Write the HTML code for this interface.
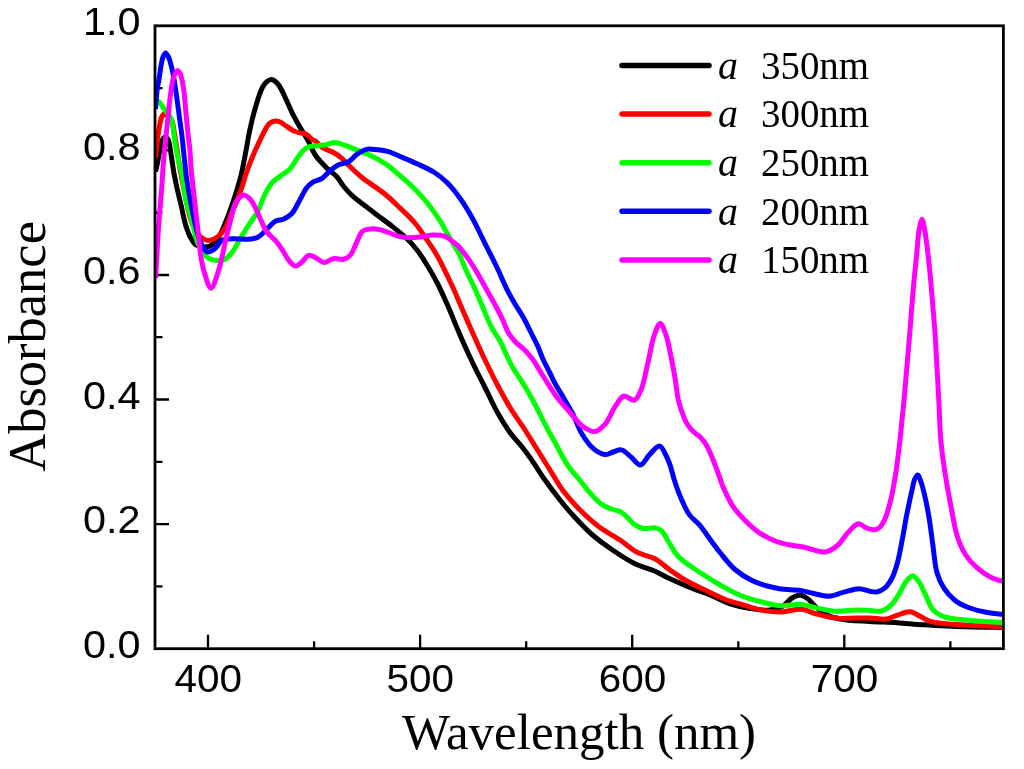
<!DOCTYPE html><html><head><meta charset="utf-8"><style>html,body{margin:0;padding:0;background:#fff;width:1024px;height:769px;overflow:hidden}svg{display:block;will-change:transform}.tk{font-family:"Liberation Sans",sans-serif;font-size:38px;fill:#000}.sf{font-family:"Liberation Serif",serif;fill:#000}</style></head><body><svg width="1024" height="769" viewBox="0 0 1024 769"><rect width="1024" height="769" fill="#fff"/><defs><clipPath id="c"><rect x="155.0" y="25.8" width="848.4" height="622.9"/></clipPath></defs><path d="M208.0 648.7V634.7 M420.1 648.7V634.7 M632.2 648.7V634.7 M844.3 648.7V634.7 M314.1 648.7V641.2 M526.2 648.7V641.2 M738.3 648.7V641.2 M950.4 648.7V641.2 M155.0 586.4H162.5 M155.0 524.1H169.0 M155.0 461.8H162.5 M155.0 399.5H169.0 M155.0 337.2H162.5 M155.0 275.0H169.0 M155.0 212.7H162.5 M155.0 150.4H169.0 M155.0 88.1H162.5" stroke="#000" stroke-width="2.3" fill="none"/><g clip-path="url(#c)" fill="none" stroke-width="5.0" stroke-linejoin="round" stroke-linecap="butt"><path stroke="#000000" d="M155.5 171.5 C156.1 169.0 156.7 166.9 157.3 164.0 C158.2 159.9 159.1 153.4 160.1 149.0 C160.9 145.5 161.5 141.6 162.7 139.5 C163.5 138.2 164.6 136.8 165.5 136.8 C166.4 136.8 167.5 138.5 168.2 139.8 C169.0 141.3 169.2 143.3 169.7 145.5 C170.3 148.5 170.7 152.2 171.3 156.0 C172.0 160.6 172.8 166.1 173.6 171.0 C174.4 175.8 175.4 180.6 176.3 185.0 C177.2 189.0 178.1 192.8 179.0 196.5 C179.8 200.1 180.7 203.5 181.5 207.0 C182.3 210.5 182.9 214.1 183.7 217.5 C184.5 220.7 185.2 223.7 186.2 226.9 C187.4 230.3 188.7 234.2 190.4 237.3 C191.9 240.0 193.3 243.0 195.6 244.6 C197.9 246.2 201.4 246.9 204.0 247.0 C206.2 247.1 208.0 246.9 210.0 246.0 C212.5 244.8 215.2 242.4 217.5 239.3 C220.8 234.8 223.7 226.8 226.3 220.5 C228.9 214.2 230.9 208.4 233.2 201.5 C235.8 193.5 238.8 184.2 241.0 175.5 C243.1 166.9 244.7 157.4 246.2 149.5 C247.5 143.0 248.1 138.0 249.5 131.5 C251.2 123.6 253.6 113.3 256.0 105.5 C258.0 98.8 260.2 91.6 262.5 87.3 C263.9 84.7 265.3 82.8 267.0 81.5 C268.4 80.4 270.1 79.4 271.6 79.5 C273.1 79.6 274.7 80.9 276.0 82.0 C277.3 83.1 278.2 84.2 279.4 86.0 C281.4 89.0 283.8 94.5 285.9 99.0 C288.1 103.6 290.0 108.6 292.4 113.3 C294.8 118.1 297.6 123.0 300.2 127.6 C302.8 132.1 305.5 136.1 308.0 140.6 C310.6 145.4 312.5 151.0 315.6 155.5 C318.6 159.8 322.4 163.6 326.0 167.2 C329.4 170.5 333.3 173.0 336.4 176.3 C339.4 179.6 341.5 183.7 344.2 187.0 C346.7 190.1 349.3 192.9 352.0 195.5 C354.6 197.9 357.2 199.8 360.0 202.0 C362.9 204.3 366.0 206.6 368.9 208.8 C371.7 210.9 373.9 212.6 377.0 215.0 C381.2 218.2 387.0 222.3 392.0 226.2 C397.1 230.2 402.6 234.5 407.0 238.8 C410.8 242.5 413.8 245.9 417.0 250.0 C420.5 254.5 423.8 259.7 427.0 265.0 C430.4 270.6 433.8 276.2 437.0 282.5 C440.6 289.5 443.9 296.9 447.5 305.0 C451.6 314.2 455.8 325.3 460.0 335.0 C464.1 344.4 468.2 353.6 472.5 362.5 C476.6 371.1 480.8 379.2 485.0 387.5 C489.2 395.8 493.1 404.7 497.5 412.5 C501.5 419.6 505.6 426.4 510.0 432.5 C514.0 438.0 518.9 443.0 522.5 447.5 C525.4 451.1 527.1 453.5 530.0 457.5 C534.2 463.5 539.9 472.8 545.0 480.0 C549.9 486.9 554.9 493.6 560.0 500.0 C564.9 506.1 569.7 511.8 575.0 517.5 C580.5 523.4 586.3 529.6 592.5 535.0 C598.8 540.4 605.5 545.3 612.5 550.0 C619.7 554.9 627.5 560.1 635.0 563.8 C641.7 567.0 648.9 568.6 655.0 571.2 C660.4 573.6 664.6 576.2 670.0 578.8 C676.2 581.6 683.3 584.8 690.0 587.5 C696.6 590.2 703.4 592.3 710.0 595.0 C716.7 597.7 723.2 601.5 730.0 603.8 C736.6 605.9 743.3 607.5 750.0 608.5 C756.6 609.5 764.1 610.7 770.0 610.0 C774.9 609.5 779.3 608.1 783.0 606.0 C786.5 604.0 788.9 599.8 792.0 598.0 C794.6 596.5 797.4 595.2 800.0 595.3 C802.7 595.4 805.6 597.3 808.0 599.0 C810.6 600.8 812.4 603.7 815.0 606.0 C818.0 608.7 821.1 611.9 825.0 614.0 C829.3 616.3 834.1 617.8 840.0 619.0 C848.2 620.7 860.2 620.8 870.0 621.4 C879.3 622.0 888.2 622.1 897.3 622.7 C906.4 623.3 914.6 624.2 924.7 624.8 C937.0 625.6 951.9 626.4 965.7 626.8 C979.7 627.3 993.9 627.3 1008.0 627.5"/><path stroke="#ff0000" d="M155.5 158.0 C156.2 151.7 156.8 144.7 157.5 139.0 C158.1 134.2 158.8 129.8 159.5 126.0 C160.1 123.0 160.5 120.1 161.3 118.0 C161.9 116.5 162.4 115.0 163.3 114.5 C164.0 114.1 165.1 114.5 166.0 114.8 C167.0 115.1 168.1 115.7 169.0 116.5 C170.1 117.6 171.2 119.0 172.0 121.0 C173.3 124.1 173.7 129.5 174.5 134.0 C175.4 138.8 176.2 143.8 177.0 149.0 C177.9 154.5 178.6 160.5 179.5 166.0 C180.4 171.2 181.3 175.7 182.3 181.0 C183.5 187.1 184.7 194.1 186.2 200.8 C187.8 207.7 189.4 216.0 191.5 221.7 C193.0 225.8 194.8 229.1 196.7 232.0 C198.3 234.4 200.0 236.6 202.0 238.0 C203.8 239.3 205.8 240.4 208.1 240.4 C211.1 240.4 215.6 238.3 218.6 236.0 C221.7 233.6 224.3 229.6 226.3 226.1 C228.3 222.6 229.2 218.8 230.8 215.0 C232.4 211.1 234.3 207.1 236.0 203.0 C237.7 198.8 239.4 194.6 241.0 190.0 C242.8 185.0 244.2 179.3 246.0 174.0 C247.8 168.6 249.9 163.2 252.0 158.0 C254.1 152.9 256.2 148.2 258.6 143.2 C261.0 138.0 264.1 131.2 266.4 127.6 C267.7 125.5 268.5 124.1 270.0 123.0 C271.5 121.9 273.7 121.2 275.5 121.1 C277.1 121.0 278.5 121.4 280.0 122.0 C281.6 122.6 282.8 123.8 284.6 125.0 C287.1 126.6 290.9 129.6 293.7 130.9 C295.9 131.9 298.1 132.4 300.0 132.8 C301.5 133.2 302.8 133.1 304.1 133.5 C305.4 133.9 306.6 134.5 307.8 135.4 C309.2 136.4 310.5 138.3 311.9 139.3 C313.1 140.2 314.3 140.3 315.6 141.2 C317.5 142.6 319.4 145.5 322.0 147.3 C325.0 149.3 329.6 150.4 333.0 152.3 C336.1 154.0 338.8 155.8 341.6 158.1 C344.7 160.7 347.5 164.1 350.7 167.2 C354.2 170.6 357.5 173.8 362.0 177.5 C368.1 182.5 377.9 188.4 384.5 193.8 C390.2 198.4 394.6 202.8 399.5 207.5 C404.6 212.3 409.9 217.1 414.5 222.5 C419.1 227.9 423.1 234.3 427.0 240.0 C430.6 245.3 433.8 250.0 437.0 255.5 C440.5 261.5 444.0 268.8 447.0 275.0 C449.7 280.6 452.2 285.9 454.5 291.0 C456.5 295.5 457.8 298.8 460.0 304.0 C463.3 311.7 468.3 323.1 472.5 332.5 C476.6 341.8 480.7 351.1 485.0 360.0 C489.1 368.6 493.2 376.9 497.5 385.0 C501.6 392.7 505.5 400.1 510.0 407.5 C514.6 415.1 520.3 422.7 525.0 430.0 C529.4 436.8 533.3 443.3 537.5 450.0 C541.7 456.7 545.8 463.3 550.0 470.0 C554.2 476.7 557.7 483.5 562.5 490.0 C567.6 496.9 573.7 503.7 580.0 510.0 C586.2 516.2 593.1 522.4 600.0 527.5 C606.5 532.3 613.6 535.7 620.0 540.0 C626.1 544.1 631.4 549.3 637.5 552.5 C643.1 555.4 649.6 555.8 655.0 558.8 C660.4 561.7 664.9 566.4 670.0 570.0 C675.0 573.5 679.5 576.8 685.0 580.0 C691.1 583.5 697.9 586.6 705.0 590.0 C712.8 593.7 723.5 599.0 730.0 601.2 C734.0 602.7 736.1 602.7 740.0 603.8 C745.6 605.4 753.6 608.5 760.5 609.9 C767.3 611.2 774.2 612.1 781.0 612.0 C787.8 611.9 795.2 608.7 801.5 609.2 C807.0 609.7 811.2 612.6 816.6 614.0 C822.6 615.6 829.2 617.4 835.7 618.1 C842.4 618.8 850.0 618.1 856.2 618.1 C861.3 618.1 865.2 617.8 870.0 617.9 C875.2 618.0 881.5 619.7 886.4 619.0 C890.5 618.5 893.5 616.4 897.3 615.2 C901.4 613.9 906.3 611.4 910.3 611.8 C914.0 612.1 917.2 615.0 920.6 616.6 C923.9 618.2 926.5 620.2 930.2 621.4 C934.8 622.8 940.5 623.1 946.6 623.7 C954.2 624.5 963.2 625.0 972.5 625.5 C983.4 626.1 996.2 626.6 1008.0 627.2"/><path stroke="#00ff00" d="M155.5 103.0 C156.5 102.5 157.6 101.3 158.5 101.5 C159.6 101.7 160.5 103.7 161.5 105.0 C162.6 106.5 163.7 108.5 164.9 110.0 C166.0 111.4 167.4 112.4 168.5 114.0 C169.7 115.9 170.8 117.9 171.7 120.6 C173.0 124.6 173.3 131.0 174.1 136.2 C175.0 141.5 175.9 147.0 176.8 152.0 C177.7 156.5 178.6 161.3 179.5 165.0 C180.1 167.7 180.8 169.2 181.4 172.0 C182.3 176.2 183.2 183.1 184.0 188.0 C184.7 192.3 185.1 196.1 186.0 200.0 C186.8 203.7 187.9 206.8 189.0 210.6 C190.2 215.0 191.8 220.3 193.0 225.0 C194.1 229.4 194.6 233.7 196.0 238.0 C197.5 242.5 199.7 248.0 202.0 251.5 C203.8 254.2 205.7 256.5 208.0 258.0 C210.2 259.4 213.1 259.9 215.3 260.3 C217.0 260.6 218.5 260.6 220.0 260.5 C221.4 260.4 222.6 260.5 224.1 259.8 C226.4 258.6 229.5 255.6 231.9 252.6 C234.9 248.9 237.3 243.5 240.0 239.0 C242.7 234.6 245.2 230.4 248.0 226.0 C251.1 221.2 254.9 216.5 257.8 211.2 C260.8 205.6 262.7 198.3 265.6 193.0 C268.0 188.5 270.4 184.4 273.4 181.3 C276.0 178.6 279.2 177.1 282.0 175.0 C284.7 173.0 287.7 171.4 290.0 169.0 C292.4 166.5 293.9 163.0 296.0 160.0 C298.2 157.0 300.5 153.3 302.8 151.0 C304.5 149.3 306.0 147.9 308.0 147.0 C310.2 146.1 312.9 146.1 315.6 145.8 C318.5 145.4 321.6 145.5 324.7 145.0 C328.1 144.4 331.8 142.4 335.1 142.5 C338.2 142.6 341.0 144.0 344.2 145.1 C347.9 146.3 352.0 148.2 355.9 149.7 C359.8 151.2 363.9 152.5 367.6 154.2 C371.2 155.8 374.6 157.5 378.0 159.4 C381.5 161.4 384.9 163.4 388.4 165.9 C392.3 168.7 396.1 172.4 400.0 175.7 C404.0 179.1 407.9 182.2 412.0 186.2 C416.8 191.0 422.4 196.8 427.0 202.5 C431.5 208.1 435.7 214.1 439.5 220.0 C443.2 225.7 446.2 231.7 449.5 237.5 C452.8 243.3 456.6 249.1 459.5 255.0 C462.4 260.8 464.4 266.8 467.0 272.5 C469.5 278.0 472.2 283.0 474.7 288.5 C477.4 294.3 479.8 300.4 482.5 306.7 C485.4 313.4 488.4 321.4 491.6 327.5 C494.3 332.6 497.5 336.4 500.0 341.0 C502.5 345.6 504.3 350.4 506.5 355.0 C508.6 359.4 510.6 363.8 513.0 368.0 C515.4 372.1 518.2 375.7 520.8 379.8 C523.4 384.0 526.2 388.6 528.6 392.8 C530.9 396.8 533.0 400.5 535.1 404.5 C537.3 408.7 539.4 413.2 541.6 417.5 C543.7 421.7 545.8 425.9 548.0 430.0 C550.2 434.2 552.3 437.7 555.0 442.5 C558.6 448.9 563.0 458.4 567.5 465.0 C571.4 470.8 576.0 475.5 580.0 480.4 C583.6 484.9 586.8 489.4 590.4 493.4 C593.8 497.2 597.1 501.1 600.8 503.8 C604.1 506.2 607.8 507.7 611.2 509.0 C614.3 510.2 617.6 510.2 620.3 511.6 C622.8 512.9 624.6 514.8 626.8 516.8 C629.3 519.1 631.7 522.6 634.6 524.6 C637.4 526.5 640.4 527.9 643.7 528.5 C647.3 529.1 652.1 527.2 655.4 527.9 C658.0 528.4 660.0 529.3 661.9 531.1 C664.4 533.4 665.9 537.7 668.4 541.5 C671.4 546.2 674.2 552.3 678.8 557.1 C684.3 562.8 693.0 567.7 700.0 572.5 C706.7 577.0 713.3 581.2 720.0 585.0 C726.6 588.7 733.2 592.5 740.0 595.3 C746.7 598.0 753.6 599.9 760.5 601.7 C767.3 603.4 774.1 605.4 781.0 605.8 C787.8 606.2 795.2 603.9 801.5 604.4 C807.0 604.8 811.3 606.8 816.6 607.9 C822.6 609.1 829.2 610.9 835.7 611.3 C842.4 611.7 850.0 610.0 856.2 609.9 C861.3 609.8 865.7 610.2 870.0 610.4 C873.8 610.6 877.5 611.9 880.9 611.1 C884.3 610.3 887.6 608.1 890.5 605.6 C893.7 602.8 896.2 598.5 898.7 594.7 C901.2 590.8 902.9 585.7 905.5 582.4 C907.7 579.6 910.4 575.7 912.7 575.8 C915.0 575.9 917.2 579.6 919.2 582.4 C921.8 586.0 923.8 591.5 926.1 596.1 C928.4 600.6 929.8 606.2 932.9 609.7 C935.8 612.9 939.3 614.9 943.8 616.6 C949.7 618.8 957.2 619.1 965.7 620.0 C977.5 621.3 993.9 621.8 1008.0 622.7"/><path stroke="#0000ff" d="M155.5 109.0 C156.0 102.7 156.4 95.5 157.1 90.0 C157.7 85.8 158.5 82.8 159.1 79.0 C159.8 74.9 160.3 69.9 161.0 66.0 C161.6 62.7 162.0 59.3 163.0 57.0 C163.7 55.3 164.7 53.0 165.6 53.0 C166.5 53.0 167.7 55.5 168.5 57.0 C169.4 58.7 169.9 60.8 170.5 63.0 C171.3 65.8 172.0 68.8 172.8 72.5 C173.8 77.8 175.0 85.2 176.0 92.0 C177.1 99.3 178.1 107.4 179.1 115.0 C180.1 122.4 181.2 129.6 182.1 137.0 C183.0 144.6 183.7 152.6 184.5 160.0 C185.3 166.9 185.8 173.3 186.8 180.0 C187.8 186.9 189.1 193.9 190.4 200.8 C191.7 207.8 193.1 215.2 194.6 221.7 C196.0 227.5 197.4 233.4 199.0 238.0 C200.2 241.5 201.4 244.5 203.0 247.0 C204.3 249.0 205.7 251.6 207.6 252.0 C209.7 252.4 213.0 250.0 215.3 248.2 C217.8 246.2 219.1 242.0 221.9 240.4 C224.7 238.8 228.0 239.1 231.9 238.8 C237.2 238.4 246.3 239.6 251.0 239.0 C253.9 238.6 255.6 238.3 257.8 237.2 C260.5 235.8 263.0 233.1 265.6 230.7 C268.6 228.0 271.4 223.5 274.7 221.6 C277.5 219.9 281.0 220.3 283.8 219.0 C286.6 217.7 289.2 216.3 291.6 213.8 C294.6 210.7 296.9 205.1 299.4 200.8 C301.9 196.5 303.9 191.3 306.5 188.0 C308.5 185.5 310.5 183.8 313.0 182.2 C315.7 180.5 319.2 180.2 322.1 178.3 C325.3 176.2 328.2 172.2 331.2 169.8 C333.8 167.7 336.2 165.9 339.0 164.6 C341.8 163.3 345.2 163.5 348.1 162.0 C351.3 160.3 354.0 156.3 357.2 154.2 C360.1 152.2 363.3 150.1 366.3 149.4 C369.0 148.7 371.5 149.3 374.5 149.5 C378.2 149.8 382.9 150.2 387.0 151.2 C391.2 152.4 395.0 154.4 399.5 156.2 C404.9 158.5 411.2 161.1 417.0 163.8 C422.9 166.5 429.3 169.2 434.5 172.5 C439.2 175.5 443.0 178.6 447.0 182.5 C451.4 186.8 455.5 192.0 459.5 197.5 C463.9 203.6 468.0 210.4 472.0 217.5 C476.4 225.3 480.3 234.2 484.5 242.5 C488.7 250.8 493.1 259.4 497.0 267.5 C500.6 275.1 503.9 283.2 507.2 289.8 C509.9 295.1 512.3 299.5 515.0 304.1 C517.5 308.4 520.3 312.0 522.8 316.5 C525.7 321.5 528.6 327.8 531.2 333.0 C533.5 337.6 535.7 341.6 537.7 346.0 C539.6 350.3 541.0 354.7 542.9 359.0 C544.9 363.4 547.2 367.7 549.4 372.0 C551.6 376.3 553.5 380.7 555.9 385.0 C558.3 389.4 561.0 393.4 563.7 398.0 C566.6 403.0 569.9 408.3 572.8 414.0 C575.9 420.1 578.1 427.6 581.7 433.5 C585.1 439.1 589.1 445.1 593.4 448.7 C597.0 451.7 601.5 454.3 605.1 454.6 C607.9 454.8 610.3 452.8 613.0 452.0 C615.8 451.2 618.7 449.3 621.5 449.9 C624.7 450.5 627.8 454.4 630.9 456.9 C634.1 459.5 637.3 465.3 640.3 465.1 C643.5 464.9 646.3 457.8 649.6 454.6 C652.8 451.5 656.7 445.6 659.5 446.0 C662.2 446.4 664.5 452.6 666.3 456.0 C668.0 459.2 669.1 462.3 670.4 466.0 C671.9 470.2 672.7 475.1 674.3 480.0 C676.1 485.6 678.3 492.0 680.8 497.8 C683.3 503.5 685.7 509.7 689.1 514.4 C692.1 518.6 696.4 521.2 699.5 524.8 C702.3 528.1 704.2 531.1 707.0 535.0 C710.7 540.1 715.4 546.8 720.0 552.5 C724.7 558.3 729.5 564.8 735.0 569.5 C740.2 574.0 746.3 577.7 752.0 580.5 C757.1 583.0 762.3 584.6 767.3 586.0 C771.9 587.3 776.0 588.3 781.0 589.0 C786.8 589.8 794.4 589.5 800.2 590.4 C805.2 591.1 809.1 592.6 813.8 593.5 C818.7 594.5 823.9 596.4 828.9 596.2 C833.9 596.0 838.9 593.4 843.9 592.1 C848.9 590.9 854.4 588.7 859.0 588.7 C863.0 588.7 866.8 590.8 870.0 591.3 C872.5 591.7 874.5 592.4 876.8 592.0 C879.5 591.5 882.6 589.9 885.0 587.9 C887.7 585.6 889.9 582.0 891.9 578.3 C894.2 574.0 895.7 568.8 897.3 563.2 C899.2 556.4 900.6 548.0 902.2 540.0 C903.8 531.6 905.2 522.4 906.9 514.0 C908.5 506.1 910.3 497.4 911.8 491.0 C912.9 486.3 913.4 481.8 914.8 479.0 C915.7 477.2 917.0 475.0 917.9 475.1 C919.1 475.2 920.0 479.3 921.0 482.0 C922.3 485.5 923.3 489.7 924.5 494.6 C926.1 501.2 927.7 509.8 929.1 518.0 C930.6 526.9 931.7 536.9 933.0 546.1 C934.3 555.1 934.8 565.3 937.0 572.8 C938.7 578.7 940.8 583.3 943.8 587.9 C946.8 592.5 950.6 596.9 954.8 600.2 C958.8 603.4 963.4 605.5 968.4 607.5 C973.8 609.6 979.9 611.0 986.2 612.2 C993.1 613.5 1000.7 614.1 1008.0 615.0"/><path stroke="#ff00ff" d="M155.6 278.0 C156.6 261.3 157.4 243.3 158.5 228.0 C159.4 215.0 160.5 203.5 161.4 192.0 C162.2 181.5 162.6 172.3 163.5 162.0 C164.4 151.0 165.7 139.3 166.9 128.0 C168.1 116.7 169.3 103.3 170.6 94.0 C171.5 87.5 172.1 81.7 173.6 77.5 C174.6 74.6 176.0 70.8 177.3 70.6 C178.2 70.4 179.3 71.9 180.0 73.0 C181.0 74.6 181.4 77.3 182.0 80.0 C182.8 83.4 183.4 87.4 184.0 92.0 C184.8 98.1 185.3 106.1 186.0 113.4 C186.7 121.0 187.6 130.1 188.3 136.8 C188.9 141.8 189.4 145.1 189.9 150.0 C190.5 156.0 190.7 164.5 191.2 170.0 C191.5 173.9 191.9 176.1 192.3 180.0 C192.9 185.7 193.8 193.9 194.6 200.8 C195.4 207.8 196.2 214.7 197.0 221.7 C197.8 228.6 198.5 235.9 199.3 242.5 C200.0 248.6 200.4 254.6 201.4 260.0 C202.2 264.7 203.0 268.6 204.5 273.0 C206.1 278.0 208.7 288.3 210.9 288.3 C213.3 288.3 216.4 277.1 218.6 270.3 C221.3 262.2 223.0 251.8 225.2 242.6 C227.4 233.4 229.8 222.3 231.9 215.0 C233.3 210.1 233.7 206.2 235.8 202.8 C237.7 199.6 241.0 195.3 243.6 195.0 C245.7 194.8 248.2 197.2 250.0 199.0 C252.1 201.1 253.6 204.2 255.2 207.3 C257.1 210.8 258.5 215.0 260.4 219.0 C262.4 223.2 264.2 228.2 266.9 232.0 C269.5 235.5 273.3 238.0 276.0 241.1 C278.5 244.0 280.4 247.0 282.5 250.2 C284.7 253.5 286.6 257.8 289.0 260.6 C291.0 262.9 293.3 266.0 295.5 266.1 C297.6 266.2 299.9 263.6 302.0 261.9 C304.3 260.1 306.0 256.0 308.5 255.4 C310.8 254.8 313.8 256.8 316.3 258.0 C319.0 259.2 321.4 262.4 324.1 262.6 C327.0 262.8 330.0 259.3 333.2 258.7 C336.5 258.1 340.6 260.0 343.6 259.3 C346.1 258.7 348.2 257.5 350.1 255.4 C352.8 252.5 354.6 246.5 356.6 242.4 C358.4 238.7 360.0 234.0 361.8 232.0 C362.8 230.9 363.7 230.5 365.0 230.0 C366.5 229.4 368.4 229.0 370.4 228.9 C373.0 228.7 376.5 229.0 379.5 229.6 C382.6 230.2 385.5 231.4 388.6 232.5 C392.0 233.7 395.5 235.5 399.0 236.4 C402.4 237.2 405.9 237.6 409.4 237.7 C412.9 237.8 416.1 237.5 419.8 237.1 C423.9 236.7 428.6 235.2 432.8 235.1 C436.8 235.0 441.4 235.2 444.5 236.2 C446.8 236.9 448.1 238.2 450.0 239.5 C452.4 241.2 455.4 243.3 457.8 245.6 C460.2 247.9 462.2 250.7 464.3 253.4 C466.5 256.3 468.7 259.3 470.8 262.5 C473.0 265.8 475.2 269.3 477.3 272.9 C479.5 276.7 481.6 280.7 483.8 284.6 C486.0 288.5 488.1 292.4 490.3 296.3 C492.5 300.2 494.7 304.1 496.8 308.0 C498.8 311.8 500.8 315.6 502.6 319.5 C504.4 323.5 505.9 328.3 507.8 331.7 C509.3 334.4 510.9 336.5 512.5 338.5 C513.9 340.3 515.2 341.7 516.9 343.4 C519.1 345.5 522.2 347.4 524.7 349.9 C527.4 352.6 530.1 355.8 532.5 359.0 C534.9 362.3 536.8 365.9 539.0 369.4 C541.2 372.9 543.3 376.3 545.5 379.8 C547.7 383.3 549.8 386.9 552.0 390.2 C554.1 393.4 556.1 396.2 558.5 399.3 C561.2 402.7 564.7 406.3 567.6 409.7 C570.3 412.8 572.9 416.0 575.4 418.8 C577.6 421.2 579.0 423.5 581.7 425.5 C585.1 427.9 590.6 432.0 594.6 431.6 C598.4 431.3 602.0 427.5 605.1 424.1 C608.8 420.0 611.2 412.6 614.5 407.7 C617.5 403.3 620.3 396.9 623.9 396.0 C627.0 395.2 631.5 401.1 634.4 400.2 C637.5 399.2 639.4 393.6 641.4 389.0 C644.0 382.8 645.3 373.9 647.3 365.6 C649.6 356.1 651.5 342.8 654.3 335.1 C656.1 330.1 658.2 323.4 660.2 323.4 C662.1 323.4 664.2 330.1 666.0 335.1 C668.8 343.0 671.3 358.5 673.0 367.0 C674.1 372.6 674.7 376.0 675.5 381.0 C676.4 386.7 677.0 393.9 678.2 399.5 C679.3 404.3 680.6 408.3 682.1 412.5 C683.6 416.6 685.2 420.8 687.3 424.2 C689.2 427.2 691.5 429.8 693.8 432.0 C695.9 434.0 698.3 435.2 700.3 437.2 C702.2 439.1 703.9 441.2 705.5 443.7 C707.4 446.7 709.0 450.4 710.7 454.1 C712.5 458.2 714.3 462.8 715.9 467.1 C717.5 471.4 719.2 476.3 720.5 479.9 C721.4 482.5 721.7 483.8 722.9 486.5 C725.0 491.3 728.9 500.3 732.8 506.1 C736.4 511.6 740.8 516.2 745.3 520.7 C749.8 525.2 754.7 529.6 759.9 533.1 C765.1 536.5 771.1 539.5 776.5 541.5 C781.1 543.3 785.5 544.1 790.0 545.0 C794.4 545.9 798.1 546.1 803.0 547.0 C809.5 548.2 819.2 552.9 825.5 552.0 C830.4 551.3 834.3 548.1 838.0 545.0 C841.9 541.7 844.4 536.1 848.0 532.5 C851.3 529.1 855.2 524.1 858.5 523.8 C861.2 523.5 863.5 526.8 866.2 527.8 C868.9 528.8 872.2 530.1 874.7 529.8 C876.8 529.5 878.7 528.3 880.4 526.7 C882.5 524.6 884.1 520.9 885.6 517.3 C887.5 512.8 888.9 507.3 890.3 501.7 C891.9 495.3 893.3 487.8 894.5 480.8 C895.7 473.9 896.7 466.7 897.6 460.0 C898.4 453.7 899.1 448.1 899.8 441.7 C900.6 434.8 901.3 427.0 902.0 420.0 C902.7 413.3 903.2 409.0 904.0 400.5 C905.5 384.3 908.6 346.8 910.0 330.0 C910.8 320.6 911.1 315.6 911.7 308.0 C912.4 299.7 913.1 290.7 913.9 282.0 C914.7 273.3 915.6 264.7 916.5 256.0 C917.4 247.3 917.9 236.7 919.1 230.0 C919.9 225.7 921.1 219.5 922.0 219.5 C922.9 219.5 923.9 225.7 924.7 230.0 C926.0 236.7 927.2 247.3 928.2 256.0 C929.2 264.7 930.0 273.3 930.8 282.0 C931.6 290.7 932.3 299.7 933.0 308.0 C933.6 315.7 934.1 320.9 934.8 330.4 C936.0 347.3 937.7 380.5 938.8 400.5 C939.6 415.5 939.7 427.6 940.8 440.0 C941.8 451.0 943.1 460.8 944.7 471.2 C946.3 481.6 948.1 491.7 950.2 502.4 C952.4 513.7 954.4 527.5 957.5 537.0 C959.8 544.1 962.3 549.8 965.7 555.0 C968.8 559.8 972.5 563.7 976.6 567.3 C980.7 571.0 985.2 574.3 990.3 576.9 C995.7 579.6 1002.1 581.0 1008.0 583.0"/></g><rect x="155.0" y="25.8" width="848.4" height="622.9" fill="none" stroke="#000" stroke-width="2.8"/><text class="tk" x="208.2" y="691.6" text-anchor="middle" textLength="67.5" lengthAdjust="spacingAndGlyphs">400</text><text class="tk" x="420.3" y="691.6" text-anchor="middle" textLength="67.5" lengthAdjust="spacingAndGlyphs">500</text><text class="tk" x="632.4" y="691.6" text-anchor="middle" textLength="67.5" lengthAdjust="spacingAndGlyphs">600</text><text class="tk" x="844.5" y="691.6" text-anchor="middle" textLength="67.5" lengthAdjust="spacingAndGlyphs">700</text><text class="tk" x="140.5" y="658.0" text-anchor="end" textLength="57.5" lengthAdjust="spacingAndGlyphs">0.0</text><text class="tk" x="140.5" y="533.4" text-anchor="end" textLength="57.5" lengthAdjust="spacingAndGlyphs">0.2</text><text class="tk" x="140.5" y="408.8" text-anchor="end" textLength="57.5" lengthAdjust="spacingAndGlyphs">0.4</text><text class="tk" x="140.5" y="284.3" text-anchor="end" textLength="57.5" lengthAdjust="spacingAndGlyphs">0.6</text><text class="tk" x="140.5" y="159.7" text-anchor="end" textLength="57.5" lengthAdjust="spacingAndGlyphs">0.8</text><text class="tk" x="140.5" y="35.1" text-anchor="end" textLength="57.5" lengthAdjust="spacingAndGlyphs">1.0</text><text class="sf" x="579" y="749.4" font-size="51" text-anchor="middle">Wavelength (nm)</text><text class="sf" font-size="52.5" text-anchor="middle" transform="translate(45.2 346.4) rotate(-90)">Absorbance</text><line x1="622" y1="65.5" x2="709" y2="65.5" stroke="#000000" stroke-width="5.5" stroke-linecap="round"/><text class="sf" x="718" y="78.7" font-size="40" font-style="italic">a</text><text class="sf" x="761" y="78.7" font-size="40" textLength="108" lengthAdjust="spacingAndGlyphs">350nm</text><line x1="622" y1="114.1" x2="709" y2="114.1" stroke="#ff0000" stroke-width="5.5" stroke-linecap="round"/><text class="sf" x="718" y="127.3" font-size="40" font-style="italic">a</text><text class="sf" x="761" y="127.3" font-size="40" textLength="108" lengthAdjust="spacingAndGlyphs">300nm</text><line x1="622" y1="162.7" x2="709" y2="162.7" stroke="#00ff00" stroke-width="5.5" stroke-linecap="round"/><text class="sf" x="718" y="175.9" font-size="40" font-style="italic">a</text><text class="sf" x="761" y="175.9" font-size="40" textLength="108" lengthAdjust="spacingAndGlyphs">250nm</text><line x1="622" y1="211.3" x2="709" y2="211.3" stroke="#0000ff" stroke-width="5.5" stroke-linecap="round"/><text class="sf" x="718" y="224.5" font-size="40" font-style="italic">a</text><text class="sf" x="761" y="224.5" font-size="40" textLength="108" lengthAdjust="spacingAndGlyphs">200nm</text><line x1="622" y1="259.9" x2="709" y2="259.9" stroke="#ff00ff" stroke-width="5.5" stroke-linecap="round"/><text class="sf" x="718" y="273.1" font-size="40" font-style="italic">a</text><text class="sf" x="761" y="273.1" font-size="40" textLength="108" lengthAdjust="spacingAndGlyphs">150nm</text></svg></body></html>
